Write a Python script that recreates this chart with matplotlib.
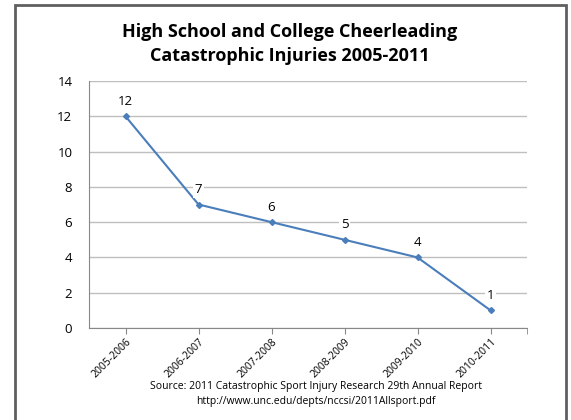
import matplotlib.pyplot as plt
from matplotlib.patches import Rectangle

seasons = ['2005-2006', '2006-2007', '2007-2008', '2008-2009', '2009-2010', '2010-2011']
injuries = [12, 7, 6, 5, 4, 1]
yticks = [0, 2, 4, 6, 8, 10, 12, 14]

plt.rcParams['font.family'] = ['Open Sans', 'DejaVu Sans']

fig = plt.figure(figsize=(5.71, 4.2), dpi=100)
fig.patch.set_facecolor('white')

# outer chart frame
fig.patches.append(Rectangle((15 / 571, -0.05), 551 / 571, 1.05 - 5 / 420,
                             transform=fig.transFigure, fill=False,
                             edgecolor='#5f5f5f', linewidth=2))

ax = fig.add_axes([89 / 571, 1 - 328 / 420, 438 / 571, 247 / 420])
x = list(range(len(seasons)))
ax.plot(x, injuries, color='#4a7ebb', linewidth=1.5, marker='D', markersize=3)

for xi, v in zip(x, injuries):
    ax.annotate(str(v), (xi, v), xytext=(0, 6), textcoords='offset points',
                ha='center', va='bottom', fontsize=9.5,
                bbox=dict(facecolor='white', edgecolor='none', pad=1))

ax.set_xlim(-0.5, len(seasons) - 0.5)
ax.set_ylim(0, 14)
ax.set_yticks(yticks)
ax.set_xticks(x)
ax.set_xticklabels(seasons, rotation=45, ha='right', rotation_mode='anchor', fontsize=7.5)
ax.tick_params(axis='y', length=0, labelsize=9.5, pad=12)
ax.tick_params(axis='x', length=4, color='#888888', pad=2)
ax.set_xticks([len(seasons) - 0.5], minor=True)
ax.tick_params(axis='x', which='minor', length=4, color='#888888')
ax.grid(axis='y', color='#bfbfbf', linewidth=1)
ax.set_axisbelow(True)
for side in ['top', 'right']:
    ax.spines[side].set_visible(False)
ax.spines['left'].set_color('#888888')
ax.spines['bottom'].set_color('#888888')

fig.text(290 / 571, 1 - 44 / 420,
         'High School and College Cheerleading\nCatastrophic Injuries 2005-2011',
         ha='center', va='center', fontsize=13, fontweight='bold', linespacing=1.4)
fig.text(316 / 571, 1 - 394 / 420,
         'Source: 2011 Catastrophic Sport Injury Research 29th Annual Report\n'
         'http://www.unc.edu/depts/nccsi/2011Allsport.pdf',
         ha='center', va='center', fontsize=7.5, linespacing=1.6)

fig.savefig('out.png', dpi=100)
